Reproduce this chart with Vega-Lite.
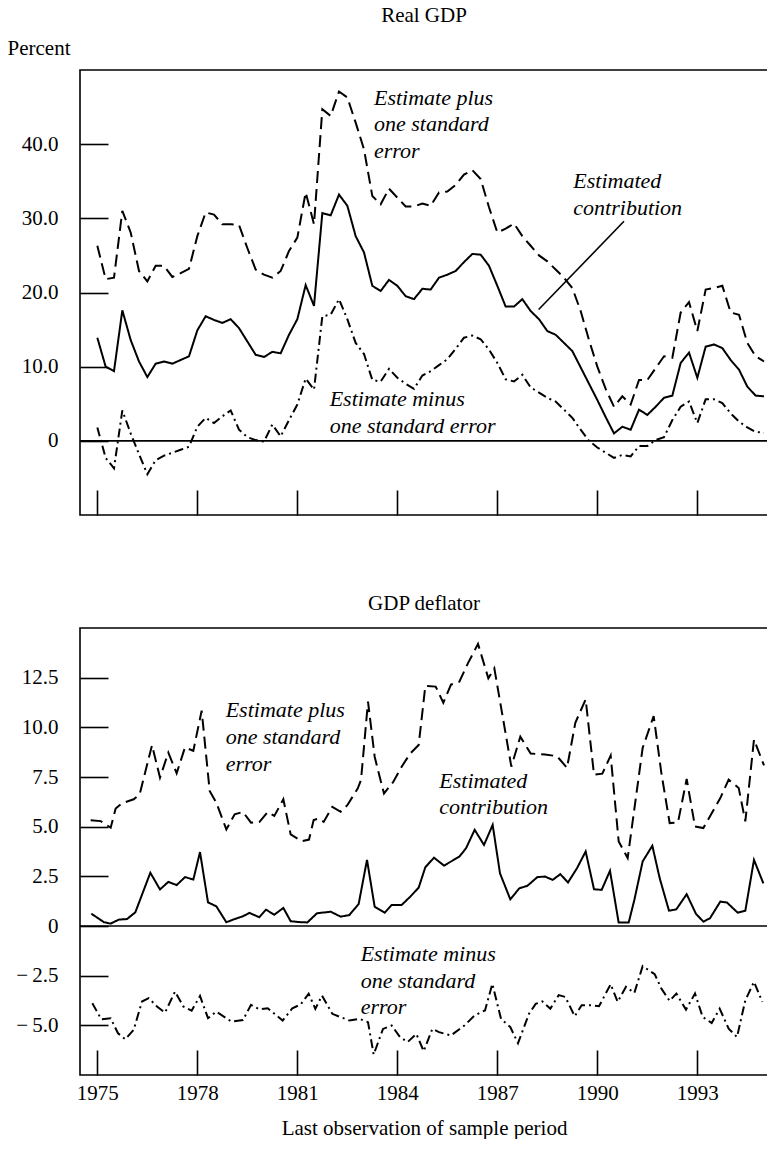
{
  "$schema": "https://vega.github.io/schema/vega-lite/v6.json",
  "padding": {"left": 6, "top": 4, "right": 0, "bottom": 0},
  "spacing": 75,
  "config": {
    "font": "Liberation Serif, Times New Roman, Times, serif",
    "view": {"stroke": "black", "strokeWidth": 1.6},
    "axis": {"grid": false, "domain": false, "labelFont": "Liberation Serif, Times New Roman, Times, serif", "labelFontSize": 21, "labelColor": "black", "tickColor": "black", "tickWidth": 1.6, "titleFont": "Liberation Serif, Times New Roman, Times, serif", "titleFontWeight": "normal", "titleFontSize": 21, "titleColor": "black"},
    "title": {"font": "Liberation Serif, Times New Roman, Times, serif", "fontSize": 21, "fontWeight": "normal", "color": "black", "baseline": "alphabetic"},
    "text": {"font": "Liberation Serif, Times New Roman, Times, serif"}
  },
  "datasets": {
    "series": [
      {"panel":"gdp","series":"plus","year":1975.0,"value":26.3},{"panel":"gdp","series":"plus","year":1975.25,"value":21.8},{"panel":"gdp","series":"plus","year":1975.5,"value":22.0},{"panel":"gdp","series":"plus","year":1975.75,"value":31.0},{"panel":"gdp","series":"plus","year":1976.0,"value":28.1},{"panel":"gdp","series":"plus","year":1976.25,"value":22.9},{"panel":"gdp","series":"plus","year":1976.5,"value":21.5},{"panel":"gdp","series":"plus","year":1976.75,"value":23.6},{"panel":"gdp","series":"plus","year":1977.0,"value":23.6},{"panel":"gdp","series":"plus","year":1977.25,"value":22.1},{"panel":"gdp","series":"plus","year":1977.5,"value":22.6},{"panel":"gdp","series":"plus","year":1977.75,"value":23.2},{"panel":"gdp","series":"plus","year":1978.0,"value":27.6},{"panel":"gdp","series":"plus","year":1978.25,"value":30.8},{"panel":"gdp","series":"plus","year":1978.5,"value":30.5},{"panel":"gdp","series":"plus","year":1978.75,"value":29.2},{"panel":"gdp","series":"plus","year":1979.0,"value":29.2},{"panel":"gdp","series":"plus","year":1979.25,"value":29.1},{"panel":"gdp","series":"plus","year":1979.5,"value":26.0},{"panel":"gdp","series":"plus","year":1979.75,"value":23.1},{"panel":"gdp","series":"plus","year":1980.0,"value":22.4},{"panel":"gdp","series":"plus","year":1980.25,"value":22.0},{"panel":"gdp","series":"plus","year":1980.5,"value":22.9},{"panel":"gdp","series":"plus","year":1980.75,"value":25.6},{"panel":"gdp","series":"plus","year":1981.0,"value":27.4},{"panel":"gdp","series":"plus","year":1981.25,"value":33.5},{"panel":"gdp","series":"plus","year":1981.5,"value":29.2},{"panel":"gdp","series":"plus","year":1981.75,"value":44.7},{"panel":"gdp","series":"plus","year":1982.0,"value":43.8},{"panel":"gdp","series":"plus","year":1982.25,"value":47.1},{"panel":"gdp","series":"plus","year":1982.5,"value":46.3},{"panel":"gdp","series":"plus","year":1982.75,"value":42.9},{"panel":"gdp","series":"plus","year":1983.0,"value":39.3},{"panel":"gdp","series":"plus","year":1983.25,"value":33.0},{"panel":"gdp","series":"plus","year":1983.5,"value":31.9},{"panel":"gdp","series":"plus","year":1983.75,"value":34.0},{"panel":"gdp","series":"plus","year":1984.0,"value":32.8},{"panel":"gdp","series":"plus","year":1984.25,"value":31.6},{"panel":"gdp","series":"plus","year":1984.5,"value":31.6},{"panel":"gdp","series":"plus","year":1984.75,"value":32.0},{"panel":"gdp","series":"plus","year":1985.0,"value":31.7},{"panel":"gdp","series":"plus","year":1985.25,"value":33.5},{"panel":"gdp","series":"plus","year":1985.5,"value":33.6},{"panel":"gdp","series":"plus","year":1985.75,"value":34.5},{"panel":"gdp","series":"plus","year":1986.0,"value":35.9},{"panel":"gdp","series":"plus","year":1986.25,"value":36.5},{"panel":"gdp","series":"plus","year":1986.5,"value":35.3},{"panel":"gdp","series":"plus","year":1986.75,"value":31.5},{"panel":"gdp","series":"plus","year":1987.0,"value":28.1},{"panel":"gdp","series":"plus","year":1987.25,"value":28.6},{"panel":"gdp","series":"plus","year":1987.5,"value":29.3},{"panel":"gdp","series":"plus","year":1987.75,"value":27.6},{"panel":"gdp","series":"plus","year":1988.0,"value":26.3},{"panel":"gdp","series":"plus","year":1988.25,"value":25.0},{"panel":"gdp","series":"plus","year":1988.5,"value":24.2},{"panel":"gdp","series":"plus","year":1988.75,"value":23.1},{"panel":"gdp","series":"plus","year":1989.0,"value":22.0},{"panel":"gdp","series":"plus","year":1989.25,"value":20.6},{"panel":"gdp","series":"plus","year":1989.5,"value":17.5},{"panel":"gdp","series":"plus","year":1989.75,"value":13.6},{"panel":"gdp","series":"plus","year":1990.0,"value":10.0},{"panel":"gdp","series":"plus","year":1990.25,"value":7.0},{"panel":"gdp","series":"plus","year":1990.5,"value":4.6},{"panel":"gdp","series":"plus","year":1990.75,"value":6.0},{"panel":"gdp","series":"plus","year":1991.0,"value":4.9},{"panel":"gdp","series":"plus","year":1991.25,"value":8.2},{"panel":"gdp","series":"plus","year":1991.5,"value":8.2},{"panel":"gdp","series":"plus","year":1991.75,"value":9.8},{"panel":"gdp","series":"plus","year":1992.0,"value":11.4},{"panel":"gdp","series":"plus","year":1992.25,"value":11.2},{"panel":"gdp","series":"plus","year":1992.5,"value":17.3},{"panel":"gdp","series":"plus","year":1992.75,"value":18.7},{"panel":"gdp","series":"plus","year":1993.0,"value":14.8},{"panel":"gdp","series":"plus","year":1993.25,"value":20.4},{"panel":"gdp","series":"plus","year":1993.5,"value":20.6},{"panel":"gdp","series":"plus","year":1993.75,"value":20.9},{"panel":"gdp","series":"plus","year":1994.0,"value":17.3},{"panel":"gdp","series":"plus","year":1994.25,"value":17.0},{"panel":"gdp","series":"plus","year":1994.5,"value":13.2},{"panel":"gdp","series":"plus","year":1994.75,"value":11.4},{"panel":"gdp","series":"plus","year":1995.0,"value":10.7},
      {"panel":"gdp","series":"est","year":1975.0,"value":13.9},{"panel":"gdp","series":"est","year":1975.25,"value":10.0},{"panel":"gdp","series":"est","year":1975.5,"value":9.4},{"panel":"gdp","series":"est","year":1975.75,"value":17.6},{"panel":"gdp","series":"est","year":1976.0,"value":13.6},{"panel":"gdp","series":"est","year":1976.25,"value":10.7},{"panel":"gdp","series":"est","year":1976.5,"value":8.6},{"panel":"gdp","series":"est","year":1976.75,"value":10.4},{"panel":"gdp","series":"est","year":1977.0,"value":10.7},{"panel":"gdp","series":"est","year":1977.25,"value":10.4},{"panel":"gdp","series":"est","year":1977.5,"value":10.9},{"panel":"gdp","series":"est","year":1977.75,"value":11.4},{"panel":"gdp","series":"est","year":1978.0,"value":14.9},{"panel":"gdp","series":"est","year":1978.25,"value":16.8},{"panel":"gdp","series":"est","year":1978.5,"value":16.3},{"panel":"gdp","series":"est","year":1978.75,"value":15.9},{"panel":"gdp","series":"est","year":1979.0,"value":16.4},{"panel":"gdp","series":"est","year":1979.25,"value":15.2},{"panel":"gdp","series":"est","year":1979.5,"value":13.4},{"panel":"gdp","series":"est","year":1979.75,"value":11.6},{"panel":"gdp","series":"est","year":1980.0,"value":11.3},{"panel":"gdp","series":"est","year":1980.25,"value":12.0},{"panel":"gdp","series":"est","year":1980.5,"value":11.8},{"panel":"gdp","series":"est","year":1980.75,"value":14.3},{"panel":"gdp","series":"est","year":1981.0,"value":16.4},{"panel":"gdp","series":"est","year":1981.25,"value":21.0},{"panel":"gdp","series":"est","year":1981.5,"value":18.2},{"panel":"gdp","series":"est","year":1981.75,"value":30.7},{"panel":"gdp","series":"est","year":1982.0,"value":30.4},{"panel":"gdp","series":"est","year":1982.25,"value":33.2},{"panel":"gdp","series":"est","year":1982.5,"value":31.7},{"panel":"gdp","series":"est","year":1982.75,"value":27.6},{"panel":"gdp","series":"est","year":1983.0,"value":25.4},{"panel":"gdp","series":"est","year":1983.25,"value":20.9},{"panel":"gdp","series":"est","year":1983.5,"value":20.2},{"panel":"gdp","series":"est","year":1983.75,"value":21.7},{"panel":"gdp","series":"est","year":1984.0,"value":20.9},{"panel":"gdp","series":"est","year":1984.25,"value":19.5},{"panel":"gdp","series":"est","year":1984.5,"value":19.1},{"panel":"gdp","series":"est","year":1984.75,"value":20.5},{"panel":"gdp","series":"est","year":1985.0,"value":20.4},{"panel":"gdp","series":"est","year":1985.25,"value":22.0},{"panel":"gdp","series":"est","year":1985.5,"value":22.4},{"panel":"gdp","series":"est","year":1985.75,"value":22.9},{"panel":"gdp","series":"est","year":1986.0,"value":24.1},{"panel":"gdp","series":"est","year":1986.25,"value":25.2},{"panel":"gdp","series":"est","year":1986.5,"value":25.1},{"panel":"gdp","series":"est","year":1986.75,"value":23.6},{"panel":"gdp","series":"est","year":1987.0,"value":20.9},{"panel":"gdp","series":"est","year":1987.25,"value":18.1},{"panel":"gdp","series":"est","year":1987.5,"value":18.1},{"panel":"gdp","series":"est","year":1987.75,"value":19.1},{"panel":"gdp","series":"est","year":1988.0,"value":17.5},{"panel":"gdp","series":"est","year":1988.25,"value":16.4},{"panel":"gdp","series":"est","year":1988.5,"value":14.8},{"panel":"gdp","series":"est","year":1988.75,"value":14.3},{"panel":"gdp","series":"est","year":1989.0,"value":13.2},{"panel":"gdp","series":"est","year":1989.25,"value":12.1},{"panel":"gdp","series":"est","year":1989.5,"value":9.9},{"panel":"gdp","series":"est","year":1989.75,"value":7.7},{"panel":"gdp","series":"est","year":1990.0,"value":5.5},{"panel":"gdp","series":"est","year":1990.25,"value":3.2},{"panel":"gdp","series":"est","year":1990.5,"value":1.0},{"panel":"gdp","series":"est","year":1990.75,"value":1.9},{"panel":"gdp","series":"est","year":1991.0,"value":1.5},{"panel":"gdp","series":"est","year":1991.25,"value":4.2},{"panel":"gdp","series":"est","year":1991.5,"value":3.5},{"panel":"gdp","series":"est","year":1991.75,"value":4.6},{"panel":"gdp","series":"est","year":1992.0,"value":5.8},{"panel":"gdp","series":"est","year":1992.25,"value":6.1},{"panel":"gdp","series":"est","year":1992.5,"value":10.5},{"panel":"gdp","series":"est","year":1992.75,"value":11.9},{"panel":"gdp","series":"est","year":1993.0,"value":8.5},{"panel":"gdp","series":"est","year":1993.25,"value":12.7},{"panel":"gdp","series":"est","year":1993.5,"value":13.0},{"panel":"gdp","series":"est","year":1993.75,"value":12.5},{"panel":"gdp","series":"est","year":1994.0,"value":10.9},{"panel":"gdp","series":"est","year":1994.25,"value":9.6},{"panel":"gdp","series":"est","year":1994.5,"value":7.3},{"panel":"gdp","series":"est","year":1994.75,"value":6.1},{"panel":"gdp","series":"est","year":1995.0,"value":6.0},
      {"panel":"gdp","series":"minus","year":1975.0,"value":1.8},{"panel":"gdp","series":"minus","year":1975.25,"value":-2.3},{"panel":"gdp","series":"minus","year":1975.5,"value":-3.7},{"panel":"gdp","series":"minus","year":1975.75,"value":4.1},{"panel":"gdp","series":"minus","year":1976.0,"value":1.0},{"panel":"gdp","series":"minus","year":1976.25,"value":-1.8},{"panel":"gdp","series":"minus","year":1976.5,"value":-4.5},{"panel":"gdp","series":"minus","year":1976.75,"value":-2.6},{"panel":"gdp","series":"minus","year":1977.0,"value":-2.0},{"panel":"gdp","series":"minus","year":1977.25,"value":-1.6},{"panel":"gdp","series":"minus","year":1977.5,"value":-1.2},{"panel":"gdp","series":"minus","year":1977.75,"value":-0.8},{"panel":"gdp","series":"minus","year":1978.0,"value":1.9},{"panel":"gdp","series":"minus","year":1978.25,"value":3.1},{"panel":"gdp","series":"minus","year":1978.5,"value":2.4},{"panel":"gdp","series":"minus","year":1978.75,"value":3.3},{"panel":"gdp","series":"minus","year":1979.0,"value":4.1},{"panel":"gdp","series":"minus","year":1979.25,"value":1.5},{"panel":"gdp","series":"minus","year":1979.5,"value":0.5},{"panel":"gdp","series":"minus","year":1979.75,"value":0.1},{"panel":"gdp","series":"minus","year":1980.0,"value":-0.1},{"panel":"gdp","series":"minus","year":1980.25,"value":2.2},{"panel":"gdp","series":"minus","year":1980.5,"value":0.6},{"panel":"gdp","series":"minus","year":1980.75,"value":2.8},{"panel":"gdp","series":"minus","year":1981.0,"value":4.9},{"panel":"gdp","series":"minus","year":1981.25,"value":8.4},{"panel":"gdp","series":"minus","year":1981.5,"value":6.9},{"panel":"gdp","series":"minus","year":1981.75,"value":16.8},{"panel":"gdp","series":"minus","year":1982.0,"value":17.0},{"panel":"gdp","series":"minus","year":1982.25,"value":19.1},{"panel":"gdp","series":"minus","year":1982.5,"value":16.4},{"panel":"gdp","series":"minus","year":1982.75,"value":13.2},{"panel":"gdp","series":"minus","year":1983.0,"value":11.7},{"panel":"gdp","series":"minus","year":1983.25,"value":8.2},{"panel":"gdp","series":"minus","year":1983.5,"value":8.0},{"panel":"gdp","series":"minus","year":1983.75,"value":9.7},{"panel":"gdp","series":"minus","year":1984.0,"value":8.5},{"panel":"gdp","series":"minus","year":1984.25,"value":7.7},{"panel":"gdp","series":"minus","year":1984.5,"value":7.0},{"panel":"gdp","series":"minus","year":1984.75,"value":8.8},{"panel":"gdp","series":"minus","year":1985.0,"value":9.4},{"panel":"gdp","series":"minus","year":1985.25,"value":10.2},{"panel":"gdp","series":"minus","year":1985.5,"value":11.0},{"panel":"gdp","series":"minus","year":1985.75,"value":12.4},{"panel":"gdp","series":"minus","year":1986.0,"value":13.9},{"panel":"gdp","series":"minus","year":1986.25,"value":14.2},{"panel":"gdp","series":"minus","year":1986.5,"value":13.7},{"panel":"gdp","series":"minus","year":1986.75,"value":12.3},{"panel":"gdp","series":"minus","year":1987.0,"value":10.5},{"panel":"gdp","series":"minus","year":1987.25,"value":8.3},{"panel":"gdp","series":"minus","year":1987.5,"value":8.0},{"panel":"gdp","series":"minus","year":1987.75,"value":8.9},{"panel":"gdp","series":"minus","year":1988.0,"value":7.2},{"panel":"gdp","series":"minus","year":1988.25,"value":6.5},{"panel":"gdp","series":"minus","year":1988.5,"value":5.8},{"panel":"gdp","series":"minus","year":1988.75,"value":5.3},{"panel":"gdp","series":"minus","year":1989.0,"value":4.2},{"panel":"gdp","series":"minus","year":1989.25,"value":3.1},{"panel":"gdp","series":"minus","year":1989.5,"value":1.5},{"panel":"gdp","series":"minus","year":1989.75,"value":0.0},{"panel":"gdp","series":"minus","year":1990.0,"value":-0.9},{"panel":"gdp","series":"minus","year":1990.25,"value":-1.6},{"panel":"gdp","series":"minus","year":1990.5,"value":-2.3},{"panel":"gdp","series":"minus","year":1990.75,"value":-1.9},{"panel":"gdp","series":"minus","year":1991.0,"value":-2.1},{"panel":"gdp","series":"minus","year":1991.25,"value":-0.7},{"panel":"gdp","series":"minus","year":1991.5,"value":-0.7},{"panel":"gdp","series":"minus","year":1991.75,"value":0.1},{"panel":"gdp","series":"minus","year":1992.0,"value":0.5},{"panel":"gdp","series":"minus","year":1992.25,"value":2.8},{"panel":"gdp","series":"minus","year":1992.5,"value":4.6},{"panel":"gdp","series":"minus","year":1992.75,"value":5.3},{"panel":"gdp","series":"minus","year":1993.0,"value":2.4},{"panel":"gdp","series":"minus","year":1993.25,"value":5.6},{"panel":"gdp","series":"minus","year":1993.5,"value":5.6},{"panel":"gdp","series":"minus","year":1993.75,"value":5.1},{"panel":"gdp","series":"minus","year":1994.0,"value":3.7},{"panel":"gdp","series":"minus","year":1994.25,"value":2.6},{"panel":"gdp","series":"minus","year":1994.5,"value":1.8},{"panel":"gdp","series":"minus","year":1994.75,"value":1.2},{"panel":"gdp","series":"minus","year":1995.0,"value":1.1},
      {"panel":"defl","series":"plus","year":1974.8,"value":5.32},{"panel":"defl","series":"plus","year":1975.1,"value":5.28},{"panel":"defl","series":"plus","year":1975.4,"value":4.95},{"panel":"defl","series":"plus","year":1975.55,"value":5.91},{"panel":"defl","series":"plus","year":1975.74,"value":6.18},{"panel":"defl","series":"plus","year":1976.09,"value":6.38},{"panel":"defl","series":"plus","year":1976.27,"value":6.63},{"panel":"defl","series":"plus","year":1976.64,"value":9.1},{"panel":"defl","series":"plus","year":1976.88,"value":7.47},{"panel":"defl","series":"plus","year":1977.13,"value":8.73},{"panel":"defl","series":"plus","year":1977.38,"value":7.69},{"panel":"defl","series":"plus","year":1977.63,"value":8.99},{"panel":"defl","series":"plus","year":1977.88,"value":8.82},{"panel":"defl","series":"plus","year":1978.13,"value":10.84},{"panel":"defl","series":"plus","year":1978.37,"value":6.8},{"panel":"defl","series":"plus","year":1978.57,"value":6.21},{"panel":"defl","series":"plus","year":1978.87,"value":4.86},{"panel":"defl","series":"plus","year":1979.12,"value":5.62},{"panel":"defl","series":"plus","year":1979.37,"value":5.74},{"panel":"defl","series":"plus","year":1979.61,"value":5.2},{"panel":"defl","series":"plus","year":1979.86,"value":5.23},{"panel":"defl","series":"plus","year":1980.11,"value":5.74},{"panel":"defl","series":"plus","year":1980.31,"value":5.54},{"panel":"defl","series":"plus","year":1980.58,"value":6.38},{"panel":"defl","series":"plus","year":1980.8,"value":4.61},{"panel":"defl","series":"plus","year":1981.13,"value":4.27},{"panel":"defl","series":"plus","year":1981.35,"value":4.35},{"panel":"defl","series":"plus","year":1981.49,"value":5.33},{"panel":"defl","series":"plus","year":1981.64,"value":5.41},{"panel":"defl","series":"plus","year":1981.79,"value":5.24},{"panel":"defl","series":"plus","year":1982.05,"value":6.0},{"panel":"defl","series":"plus","year":1982.3,"value":5.75},{"panel":"defl","series":"plus","year":1982.5,"value":6.08},{"panel":"defl","series":"plus","year":1982.81,"value":6.92},{"panel":"defl","series":"plus","year":1982.91,"value":7.34},{"panel":"defl","series":"plus","year":1983.12,"value":11.29},{"panel":"defl","series":"plus","year":1983.32,"value":8.52},{"panel":"defl","series":"plus","year":1983.47,"value":7.51},{"panel":"defl","series":"plus","year":1983.6,"value":6.67},{"panel":"defl","series":"plus","year":1983.88,"value":7.26},{"panel":"defl","series":"plus","year":1984.13,"value":8.02},{"panel":"defl","series":"plus","year":1984.39,"value":8.69},{"panel":"defl","series":"plus","year":1984.64,"value":9.11},{"panel":"defl","series":"plus","year":1984.84,"value":12.08},{"panel":"defl","series":"plus","year":1985.15,"value":12.05},{"panel":"defl","series":"plus","year":1985.38,"value":11.24},{"panel":"defl","series":"plus","year":1985.61,"value":12.15},{"panel":"defl","series":"plus","year":1985.86,"value":12.3},{"panel":"defl","series":"plus","year":1986.12,"value":13.23},{"panel":"defl","series":"plus","year":1986.42,"value":14.2},{"panel":"defl","series":"plus","year":1986.73,"value":12.47},{"panel":"defl","series":"plus","year":1986.91,"value":12.97},{"panel":"defl","series":"plus","year":1987.42,"value":8.02},{"panel":"defl","series":"plus","year":1987.69,"value":9.53},{"panel":"defl","series":"plus","year":1988.0,"value":8.68},{"panel":"defl","series":"plus","year":1988.43,"value":8.63},{"panel":"defl","series":"plus","year":1988.79,"value":8.55},{"panel":"defl","series":"plus","year":1989.09,"value":7.96},{"panel":"defl","series":"plus","year":1989.34,"value":10.23},{"panel":"defl","series":"plus","year":1989.65,"value":11.41},{"panel":"defl","series":"plus","year":1989.9,"value":7.62},{"panel":"defl","series":"plus","year":1990.15,"value":7.67},{"panel":"defl","series":"plus","year":1990.4,"value":8.58},{"panel":"defl","series":"plus","year":1990.64,"value":4.26},{"panel":"defl","series":"plus","year":1990.91,"value":3.42},{"panel":"defl","series":"plus","year":1991.36,"value":8.97},{"panel":"defl","series":"plus","year":1991.69,"value":10.57},{"panel":"defl","series":"plus","year":1991.92,"value":7.71},{"panel":"defl","series":"plus","year":1992.17,"value":5.18},{"panel":"defl","series":"plus","year":1992.42,"value":5.22},{"panel":"defl","series":"plus","year":1992.68,"value":7.4},{"panel":"defl","series":"plus","year":1992.93,"value":5.01},{"panel":"defl","series":"plus","year":1993.18,"value":4.93},{"panel":"defl","series":"plus","year":1993.69,"value":6.44},{"panel":"defl","series":"plus","year":1993.94,"value":7.37},{"panel":"defl","series":"plus","year":1994.24,"value":6.95},{"panel":"defl","series":"plus","year":1994.44,"value":5.27},{"panel":"defl","series":"plus","year":1994.7,"value":9.39},{"panel":"defl","series":"plus","year":1995.0,"value":8.08},
      {"panel":"defl","series":"est","year":1974.82,"value":0.62},{"panel":"defl","series":"est","year":1975.2,"value":0.19},{"panel":"defl","series":"est","year":1975.4,"value":0.12},{"panel":"defl","series":"est","year":1975.64,"value":0.32},{"panel":"defl","series":"est","year":1975.89,"value":0.35},{"panel":"defl","series":"est","year":1976.14,"value":0.69},{"panel":"defl","series":"est","year":1976.59,"value":2.68},{"panel":"defl","series":"est","year":1976.88,"value":1.84},{"panel":"defl","series":"est","year":1977.13,"value":2.22},{"panel":"defl","series":"est","year":1977.38,"value":2.06},{"panel":"defl","series":"est","year":1977.63,"value":2.46},{"panel":"defl","series":"est","year":1977.88,"value":2.34},{"panel":"defl","series":"est","year":1978.08,"value":3.72},{"panel":"defl","series":"est","year":1978.32,"value":1.19},{"panel":"defl","series":"est","year":1978.57,"value":0.99},{"panel":"defl","series":"est","year":1978.87,"value":0.19},{"panel":"defl","series":"est","year":1979.12,"value":0.35},{"panel":"defl","series":"est","year":1979.37,"value":0.49},{"panel":"defl","series":"est","year":1979.56,"value":0.66},{"panel":"defl","series":"est","year":1979.86,"value":0.44},{"panel":"defl","series":"est","year":1980.06,"value":0.82},{"panel":"defl","series":"est","year":1980.31,"value":0.57},{"panel":"defl","series":"est","year":1980.58,"value":0.91},{"panel":"defl","series":"est","year":1980.8,"value":0.24},{"panel":"defl","series":"est","year":1981.1,"value":0.19},{"panel":"defl","series":"est","year":1981.3,"value":0.18},{"panel":"defl","series":"est","year":1981.59,"value":0.64},{"panel":"defl","series":"est","year":1982.0,"value":0.72},{"panel":"defl","series":"est","year":1982.3,"value":0.47},{"panel":"defl","series":"est","year":1982.56,"value":0.55},{"panel":"defl","series":"est","year":1982.84,"value":1.11},{"panel":"defl","series":"est","year":1983.09,"value":3.33},{"panel":"defl","series":"est","year":1983.32,"value":0.97},{"panel":"defl","series":"est","year":1983.62,"value":0.67},{"panel":"defl","series":"est","year":1983.83,"value":1.06},{"panel":"defl","series":"est","year":1984.13,"value":1.06},{"panel":"defl","series":"est","year":1984.39,"value":1.48},{"panel":"defl","series":"est","year":1984.64,"value":1.93},{"panel":"defl","series":"est","year":1984.84,"value":2.96},{"panel":"defl","series":"est","year":1985.1,"value":3.44},{"panel":"defl","series":"est","year":1985.4,"value":3.04},{"panel":"defl","series":"est","year":1985.86,"value":3.49},{"panel":"defl","series":"est","year":1986.06,"value":3.91},{"panel":"defl","series":"est","year":1986.32,"value":4.84},{"panel":"defl","series":"est","year":1986.6,"value":4.08},{"panel":"defl","series":"est","year":1986.86,"value":5.09},{"panel":"defl","series":"est","year":1987.08,"value":2.65},{"panel":"defl","series":"est","year":1987.39,"value":1.34},{"panel":"defl","series":"est","year":1987.66,"value":1.9},{"panel":"defl","series":"est","year":1987.9,"value":2.02},{"panel":"defl","series":"est","year":1988.2,"value":2.46},{"panel":"defl","series":"est","year":1988.43,"value":2.49},{"panel":"defl","series":"est","year":1988.66,"value":2.32},{"panel":"defl","series":"est","year":1988.89,"value":2.61},{"panel":"defl","series":"est","year":1989.12,"value":2.19},{"panel":"defl","series":"est","year":1989.39,"value":2.91},{"panel":"defl","series":"est","year":1989.65,"value":3.75},{"panel":"defl","series":"est","year":1989.9,"value":1.85},{"panel":"defl","series":"est","year":1990.13,"value":1.82},{"panel":"defl","series":"est","year":1990.38,"value":2.78},{"panel":"defl","series":"est","year":1990.64,"value":0.17},{"panel":"defl","series":"est","year":1990.94,"value":0.17},{"panel":"defl","series":"est","year":1991.11,"value":1.31},{"panel":"defl","series":"est","year":1991.36,"value":3.25},{"panel":"defl","series":"est","year":1991.65,"value":4.04},{"panel":"defl","series":"est","year":1991.87,"value":2.41},{"panel":"defl","series":"est","year":1992.15,"value":0.77},{"panel":"defl","series":"est","year":1992.37,"value":0.84},{"panel":"defl","series":"est","year":1992.68,"value":1.6},{"panel":"defl","series":"est","year":1992.96,"value":0.61},{"panel":"defl","series":"est","year":1993.18,"value":0.22},{"panel":"defl","series":"est","year":1993.38,"value":0.39},{"panel":"defl","series":"est","year":1993.69,"value":1.23},{"panel":"defl","series":"est","year":1993.89,"value":1.18},{"panel":"defl","series":"est","year":1994.21,"value":0.67},{"panel":"defl","series":"est","year":1994.44,"value":0.77},{"panel":"defl","series":"est","year":1994.7,"value":3.33},{"panel":"defl","series":"est","year":1994.98,"value":2.15},
      {"panel":"defl","series":"minus","year":1974.85,"value":-3.89},{"panel":"defl","series":"minus","year":1975.12,"value":-4.7},{"panel":"defl","series":"minus","year":1975.4,"value":-4.65},{"panel":"defl","series":"minus","year":1975.62,"value":-5.4},{"panel":"defl","series":"minus","year":1975.84,"value":-5.7},{"panel":"defl","series":"minus","year":1976.09,"value":-5.23},{"panel":"defl","series":"minus","year":1976.34,"value":-3.8},{"panel":"defl","series":"minus","year":1976.54,"value":-3.63},{"panel":"defl","series":"minus","year":1976.79,"value":-4.05},{"panel":"defl","series":"minus","year":1977.03,"value":-4.36},{"panel":"defl","series":"minus","year":1977.33,"value":-3.3},{"panel":"defl","series":"minus","year":1977.58,"value":-4.05},{"panel":"defl","series":"minus","year":1977.83,"value":-4.26},{"panel":"defl","series":"minus","year":1978.08,"value":-3.52},{"panel":"defl","series":"minus","year":1978.32,"value":-4.64},{"panel":"defl","series":"minus","year":1978.57,"value":-4.31},{"panel":"defl","series":"minus","year":1979.02,"value":-4.81},{"panel":"defl","series":"minus","year":1979.37,"value":-4.73},{"panel":"defl","series":"minus","year":1979.61,"value":-3.97},{"panel":"defl","series":"minus","year":1979.86,"value":-4.19},{"panel":"defl","series":"minus","year":1980.11,"value":-4.14},{"panel":"defl","series":"minus","year":1980.56,"value":-4.76},{"panel":"defl","series":"minus","year":1980.85,"value":-4.14},{"panel":"defl","series":"minus","year":1981.1,"value":-3.95},{"panel":"defl","series":"minus","year":1981.34,"value":-3.41},{"panel":"defl","series":"minus","year":1981.54,"value":-4.17},{"panel":"defl","series":"minus","year":1981.74,"value":-3.5},{"panel":"defl","series":"minus","year":1982.05,"value":-4.42},{"panel":"defl","series":"minus","year":1982.56,"value":-4.76},{"panel":"defl","series":"minus","year":1982.86,"value":-4.67},{"panel":"defl","series":"minus","year":1983.12,"value":-4.84},{"panel":"defl","series":"minus","year":1983.29,"value":-6.47},{"panel":"defl","series":"minus","year":1983.57,"value":-5.18},{"panel":"defl","series":"minus","year":1983.83,"value":-5.01},{"panel":"defl","series":"minus","year":1984.08,"value":-5.59},{"panel":"defl","series":"minus","year":1984.31,"value":-5.84},{"panel":"defl","series":"minus","year":1984.57,"value":-5.43},{"panel":"defl","series":"minus","year":1984.79,"value":-6.3},{"panel":"defl","series":"minus","year":1985.05,"value":-5.18},{"panel":"defl","series":"minus","year":1985.25,"value":-5.34},{"panel":"defl","series":"minus","year":1985.61,"value":-5.51},{"panel":"defl","series":"minus","year":1986.01,"value":-5.01},{"panel":"defl","series":"minus","year":1986.32,"value":-4.5},{"panel":"defl","series":"minus","year":1986.63,"value":-4.25},{"panel":"defl","series":"minus","year":1986.85,"value":-2.91},{"panel":"defl","series":"minus","year":1987.11,"value":-4.67},{"panel":"defl","series":"minus","year":1987.39,"value":-5.09},{"panel":"defl","series":"minus","year":1987.62,"value":-5.9},{"panel":"defl","series":"minus","year":1987.95,"value":-4.42},{"panel":"defl","series":"minus","year":1988.15,"value":-3.92},{"panel":"defl","series":"minus","year":1988.35,"value":-3.8},{"panel":"defl","series":"minus","year":1988.59,"value":-4.16},{"panel":"defl","series":"minus","year":1988.84,"value":-3.48},{"panel":"defl","series":"minus","year":1989.04,"value":-3.57},{"panel":"defl","series":"minus","year":1989.32,"value":-4.54},{"panel":"defl","series":"minus","year":1989.53,"value":-3.99},{"panel":"defl","series":"minus","year":1989.8,"value":-3.99},{"panel":"defl","series":"minus","year":1990.05,"value":-4.04},{"panel":"defl","series":"minus","year":1990.4,"value":-2.93},{"panel":"defl","series":"minus","year":1990.61,"value":-3.82},{"panel":"defl","series":"minus","year":1990.86,"value":-3.06},{"panel":"defl","series":"minus","year":1991.11,"value":-3.37},{"panel":"defl","series":"minus","year":1991.36,"value":-2.02},{"panel":"defl","series":"minus","year":1991.72,"value":-2.42},{"panel":"defl","series":"minus","year":1991.92,"value":-3.15},{"panel":"defl","series":"minus","year":1992.17,"value":-3.77},{"panel":"defl","series":"minus","year":1992.37,"value":-3.4},{"panel":"defl","series":"minus","year":1992.66,"value":-4.21},{"panel":"defl","series":"minus","year":1992.93,"value":-3.4},{"panel":"defl","series":"minus","year":1993.16,"value":-4.58},{"panel":"defl","series":"minus","year":1993.43,"value":-4.88},{"panel":"defl","series":"minus","year":1993.67,"value":-4.16},{"panel":"defl","series":"minus","year":1993.94,"value":-5.17},{"panel":"defl","series":"minus","year":1994.19,"value":-5.59},{"panel":"defl","series":"minus","year":1994.44,"value":-3.74},{"panel":"defl","series":"minus","year":1994.7,"value":-2.81},{"panel":"defl","series":"minus","year":1994.95,"value":-3.82}
    ],
    "notes": [
      {"panel":"gdp","year":1983.3,"value":46.2,"text":"Estimate plus"},
      {"panel":"gdp","year":1983.3,"value":42.7,"text":"one standard"},
      {"panel":"gdp","year":1983.3,"value":39.1,"text":"error"},
      {"panel":"gdp","year":1989.28,"value":35.0,"text":"Estimated"},
      {"panel":"gdp","year":1989.28,"value":31.4,"text":"contribution"},
      {"panel":"gdp","year":1981.97,"value":5.6,"text":"Estimate minus"},
      {"panel":"gdp","year":1981.97,"value":2.0,"text":"one standard error"},
      {"panel":"defl","year":1978.85,"value":10.85,"text":"Estimate plus"},
      {"panel":"defl","year":1978.85,"value":9.5,"text":"one standard"},
      {"panel":"defl","year":1978.85,"value":8.16,"text":"error"},
      {"panel":"defl","year":1985.26,"value":7.32,"text":"Estimated"},
      {"panel":"defl","year":1985.26,"value":5.98,"text":"contribution"},
      {"panel":"defl","year":1982.9,"value":-1.41,"text":"Estimate minus"},
      {"panel":"defl","year":1982.9,"value":-2.76,"text":"one standard"},
      {"panel":"defl","year":1982.9,"value":-4.1,"text":"error"}
    ],
    "leaders": [
      {"panel":"gdp","year":1990.8,"value":29.6,"year2":1988.24,"value2":17.7}
    ],
    "zero": [{"value": 0}]
  },
  "vconcat": [
    {
      "width": 688,
      "height": 445,
      "title": {"text": "Real GDP", "frame": "group", "anchor": "middle", "offset": 11},
      "layer": [
        {
          "data": {"name": "series"},
          "transform": [{"filter": "datum.panel == 'gdp'"}],
          "mark": {"type": "line", "color": "black", "strokeWidth": 2},
          "encoding": {
            "x": {"field": "year", "type": "quantitative", "scale": {"domain": [1974.48, 1995.12], "nice": false, "zero": false},
              "axis": {"values": [1975, 1978, 1981, 1984, 1987, 1990, 1993], "labels": false, "tickSize": -25, "title": null}},
            "y": {"field": "value", "type": "quantitative", "scale": {"domain": [-10, 50], "nice": false, "zero": false},
              "axis": {"values": [0, 10, 20, 30, 40], "tickSize": -28, "labelPadding": 50,
                "labelExpr": "datum.value == 0 ? '0' : (datum.value < 0 ? '\u2212\u2009' + format(-datum.value, '.1f') : format(datum.value, '.1f'))",
                "title": "Percent", "titleAngle": 0, "titleX": -73, "titleY": -22, "titleAlign": "left", "titleBaseline": "middle"}},
            "strokeDash": {"field": "series", "type": "nominal", "scale": {"domain": ["est", "plus", "minus"], "range": [[1, 0], [12, 6], [9, 4, 2, 4]]}, "legend": null}
          }
        },
        {
          "data": {"name": "zero"},
          "mark": {"type": "rule", "color": "black", "strokeWidth": 1.6},
          "encoding": {
            "y": {"field": "value", "type": "quantitative", "scale": {"domain": [-10, 50], "nice": false, "zero": false},
              "axis": {"values": [0, 10, 20, 30, 40], "tickSize": -28, "labelPadding": 50,
                "labelExpr": "datum.value == 0 ? '0' : (datum.value < 0 ? '\u2212\u2009' + format(-datum.value, '.1f') : format(datum.value, '.1f'))",
                "title": "Percent", "titleAngle": 0, "titleX": -73, "titleY": -22, "titleAlign": "left", "titleBaseline": "middle"}}
          }
        },
        {
          "data": {"name": "leaders"},
          "transform": [{"filter": "datum.panel == 'gdp'"}],
          "mark": {"type": "rule", "color": "black", "strokeWidth": 1.6},
          "encoding": {
            "x": {"field": "year", "type": "quantitative", "scale": {"domain": [1974.48, 1995.12], "nice": false, "zero": false},
              "axis": {"values": [1975, 1978, 1981, 1984, 1987, 1990, 1993], "labels": false, "tickSize": -25, "title": null}},
            "y": {"field": "value", "type": "quantitative", "scale": {"domain": [-10, 50], "nice": false, "zero": false},
              "axis": {"values": [0, 10, 20, 30, 40], "tickSize": -28, "labelPadding": 50,
                "labelExpr": "datum.value == 0 ? '0' : (datum.value < 0 ? '\u2212\u2009' + format(-datum.value, '.1f') : format(datum.value, '.1f'))",
                "title": "Percent", "titleAngle": 0, "titleX": -73, "titleY": -22, "titleAlign": "left", "titleBaseline": "middle"}},
            "x2": {"field": "year2"},
            "y2": {"field": "value2"}
          }
        },
        {
          "data": {"name": "notes"},
          "transform": [{"filter": "datum.panel == 'gdp'"}],
          "mark": {"type": "text", "align": "left", "baseline": "middle", "fontStyle": "italic", "fontSize": 22, "color": "black"},
          "encoding": {
            "x": {"field": "year", "type": "quantitative", "scale": {"domain": [1974.48, 1995.12], "nice": false, "zero": false},
              "axis": {"values": [1975, 1978, 1981, 1984, 1987, 1990, 1993], "labels": false, "tickSize": -25, "title": null}},
            "y": {"field": "value", "type": "quantitative", "scale": {"domain": [-10, 50], "nice": false, "zero": false},
              "axis": {"values": [0, 10, 20, 30, 40], "tickSize": -28, "labelPadding": 50,
                "labelExpr": "datum.value == 0 ? '0' : (datum.value < 0 ? '\u2212\u2009' + format(-datum.value, '.1f') : format(datum.value, '.1f'))",
                "title": "Percent", "titleAngle": 0, "titleX": -73, "titleY": -22, "titleAlign": "left", "titleBaseline": "middle"}},
            "text": {"field": "text"}
          }
        }
      ]
    },
    {
      "width": 688,
      "height": 447,
      "title": {"text": "GDP deflator", "frame": "group", "anchor": "middle", "offset": 14},
      "layer": [
        {
          "data": {"name": "series"},
          "transform": [{"filter": "datum.panel == 'defl'"}],
          "mark": {"type": "line", "color": "black", "strokeWidth": 2},
          "encoding": {
            "x": {"field": "year", "type": "quantitative", "scale": {"domain": [1974.48, 1995.12], "nice": false, "zero": false},
              "axis": {"values": [1975, 1978, 1981, 1984, 1987, 1990, 1993], "format": "d", "tickSize": -25, "labelPadding": 32,
                "title": "Last observation of sample period", "titlePadding": 14}},
            "y": {"field": "value", "type": "quantitative", "scale": {"domain": [-7.5, 15], "nice": false, "zero": false},
              "axis": {"values": [-5, -2.5, 0, 2.5, 5, 7.5, 10, 12.5], "tickSize": -28, "labelPadding": 50,
                "labelExpr": "datum.value == 0 ? '0' : (datum.value < 0 ? '\u2212\u2009' + format(-datum.value, '.1f') : format(datum.value, '.1f'))",
                "title": null}},
            "strokeDash": {"field": "series", "type": "nominal", "scale": {"domain": ["est", "plus", "minus"], "range": [[1, 0], [12, 6], [9, 4, 2, 4]]}, "legend": null}
          }
        },
        {
          "data": {"name": "zero"},
          "mark": {"type": "rule", "color": "black", "strokeWidth": 1.6},
          "encoding": {
            "y": {"field": "value", "type": "quantitative", "scale": {"domain": [-7.5, 15], "nice": false, "zero": false},
              "axis": {"values": [-5, -2.5, 0, 2.5, 5, 7.5, 10, 12.5], "tickSize": -28, "labelPadding": 50,
                "labelExpr": "datum.value == 0 ? '0' : (datum.value < 0 ? '\u2212\u2009' + format(-datum.value, '.1f') : format(datum.value, '.1f'))",
                "title": null}}
          }
        },
        {
          "data": {"name": "notes"},
          "transform": [{"filter": "datum.panel == 'defl'"}],
          "mark": {"type": "text", "align": "left", "baseline": "middle", "fontStyle": "italic", "fontSize": 22, "color": "black"},
          "encoding": {
            "x": {"field": "year", "type": "quantitative", "scale": {"domain": [1974.48, 1995.12], "nice": false, "zero": false},
              "axis": {"values": [1975, 1978, 1981, 1984, 1987, 1990, 1993], "format": "d", "tickSize": -25, "labelPadding": 32,
                "title": "Last observation of sample period", "titlePadding": 14}},
            "y": {"field": "value", "type": "quantitative", "scale": {"domain": [-7.5, 15], "nice": false, "zero": false},
              "axis": {"values": [-5, -2.5, 0, 2.5, 5, 7.5, 10, 12.5], "tickSize": -28, "labelPadding": 50,
                "labelExpr": "datum.value == 0 ? '0' : (datum.value < 0 ? '\u2212\u2009' + format(-datum.value, '.1f') : format(datum.value, '.1f'))",
                "title": null}},
            "text": {"field": "text"}
          }
        }
      ]
    }
  ]
}
